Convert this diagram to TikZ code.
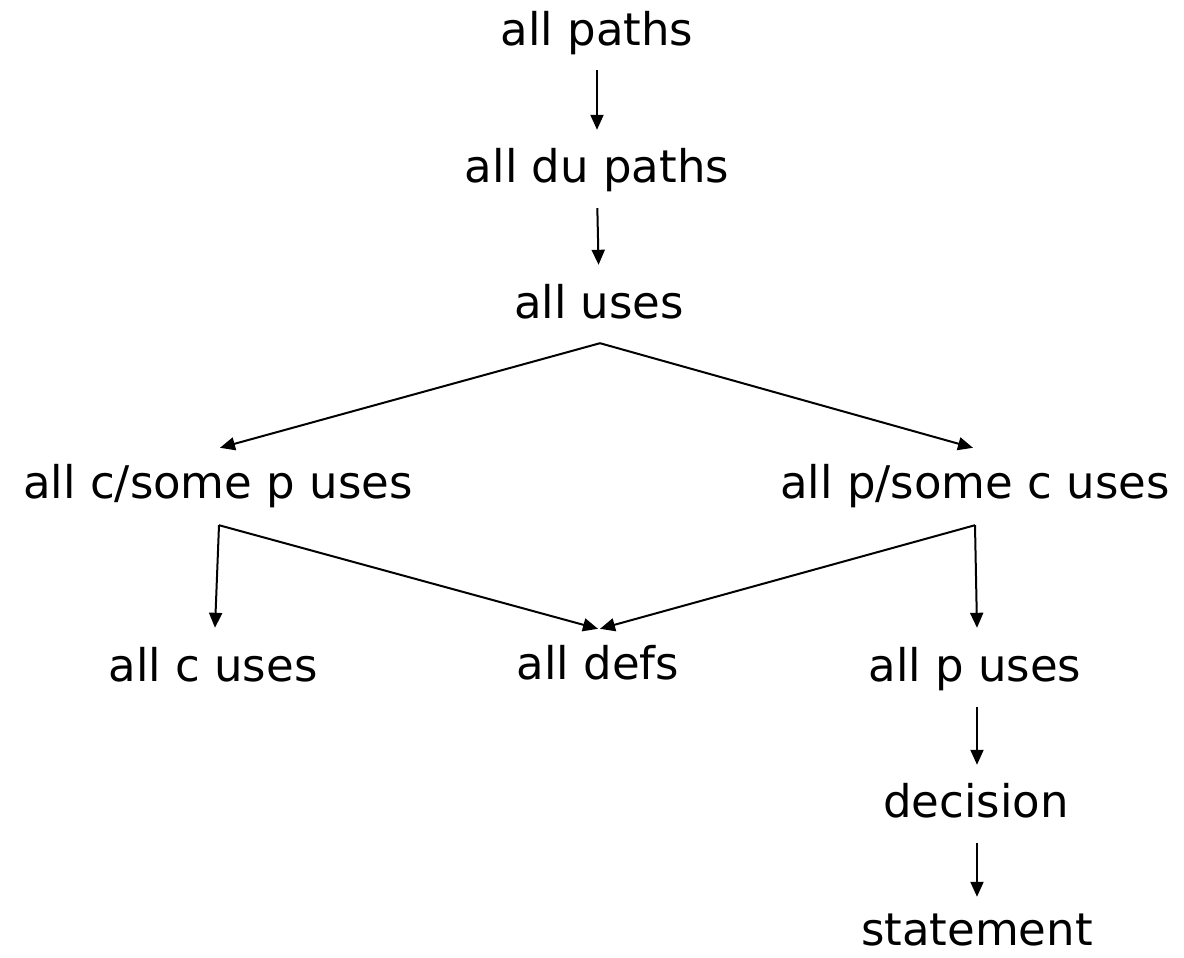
\documentclass[tikz,border=0pt]{standalone}
\usepackage{fontspec}
\setmainfont{DejaVu Sans}
\usetikzlibrary{arrows.meta,calc}
\tikzset{
  crit/.style={anchor=base, inner sep=0pt, text height=34pt, text depth=11pt,
    font=\fontsize{45}{54}\selectfont},
  arr/.style={line width=2pt, -{Triangle[length=15pt,width=13pt]}}
}
\begin{document}
\begin{tikzpicture}[x=1pt,y=-1pt]
\useasboundingbox (0,0) rectangle (1184,958);

% criteria, top to bottom
\node[crit] (ap)  at (597,46)  {all paths};
\node[crit] (adu) at (597,182) {all du paths};
\node[crit] (au)  at (599,318) {all uses};
\node[crit] (acp) at (218,498) {all c/some p uses};
\node[crit] (apc) at (975,498) {all p/some c uses};
\node[crit] (ac)  at (213,681) {all c uses};
\node[crit] (ad)  at (598,679) {all defs};
\node[crit] (apu) at (975,681) {all p uses};
\node[crit] (dec) at (976,817) {decision};
\node[crit] (st)  at (977,945) {statement};

% fork points below the branching criteria
\coordinate (fu)  at ($(au.south)+(1,14)$);
\coordinate (fcp) at ($(acp.south)+(1,16)$);
\coordinate (fpc) at ($(apc.south)+(0,16)$);

% straight subsumption arrows
\draw[arr, shorten <=13pt, shorten >=18pt] (ap.south) -- (adu.north);
\draw[arr, shorten <=15pt, shorten >=19pt] (adu.south) -- (au.north);

% from all uses
\draw[arr] (fu) -- ($(acp.north)+(2,-16)$);
\draw[arr] (fu) -- ($(apc.north)+(-2,-16)$);

% from all c/some p uses
\draw[arr] (fcp) -- ($(ac.north)+(2,-19)$);
\draw[arr] (fcp) -- ($(ad.north)+(0,-16)$);

% from all p/some c uses
\draw[arr] (fpc) -- ($(ad.north)+(2,-16)$);
\draw[arr] (fpc) -- ($(apu.north)+(2,-19)$);

% down the right-hand chain
\draw[arr] ($(apu.south)+(2,15)$) -- ($(dec.north)+(1,-18)$);
\draw[arr] ($(dec.south)+(1,15)$) -- ($(st.north)+(0,-14)$);
\end{tikzpicture}
\end{document}
